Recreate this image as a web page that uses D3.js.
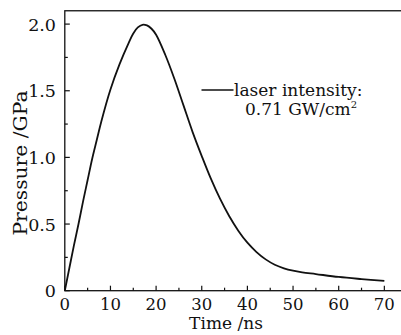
<!DOCTYPE html>
<html><head><meta charset="utf-8">
<script src="https://cdn.jsdelivr.net/npm/d3@7"></script>
<style>body{margin:0;background:#fff}svg{display:block}text{font-family:"DejaVu Serif",serif;fill:#111}</style>
</head><body><svg id="c" width="401" height="335"></svg>
<script>
const timeNs = [0,1,2,3,4,5,6,7,8,10,12,14,15,16,17,18,19,20,22,24,26,28,30,32,34,36,38,40,42,44,46,48,50,52,55,60,65,70];
const pressureGPa = [0,0.17,0.34,0.5,0.67,0.83,0.99,1.13,1.27,1.51,1.70,1.86,1.93,1.975,1.995,1.99,1.965,1.92,1.77,1.59,1.39,1.19,1.01,0.84,0.69,0.56,0.45,0.36,0.29,0.235,0.195,0.168,0.15,0.138,0.125,0.103,0.087,0.073];
const xTicks = [0,10,20,30,40,50,60,70];
const yTicks = [0,0.5,1.0,1.5,2.0];
const yTickLabels = ["0","0.5","1.0","1.5","2.0"];
const legendLines = ["laser intensity:","0.71 GW/cm"];

const svg = d3.select("#c");
const L = 64.8, B = 290.7;
const x = d3.scaleLinear().domain([0,75]).range([L, L + 75*4.565]);
const y = d3.scaleLinear().domain([0,2.1]).range([B, B - 2.1*133.3]);

const g = svg.append("g");
g.append("rect").attr("x",L).attr("y",y(2.1)).attr("width",x(75)-L).attr("height",B-y(2.1))
 .attr("fill","none").attr("stroke","#111").attr("stroke-width",1.3);

const xMinor = d3.range(5,75,10);
g.selectAll(".xt").data(xTicks).enter().append("line")
 .attr("x1",d=>x(d)).attr("x2",d=>x(d)).attr("y1",B).attr("y2",B-5).attr("stroke","#111").attr("stroke-width",1.2);
g.selectAll(".xm").data(xMinor).enter().append("line")
 .attr("x1",d=>x(d)).attr("x2",d=>x(d)).attr("y1",B).attr("y2",B-3).attr("stroke","#111").attr("stroke-width",1.2);
g.selectAll(".xl").data(xTicks).enter().append("text")
 .attr("x",d=>x(d)).attr("y",309.5).attr("text-anchor","middle").attr("font-size",16.5).text(d=>d);

const yMinor = [0.25,0.75,1.25,1.75];
g.selectAll(".yt").data(yTicks).enter().append("line")
 .attr("x1",L).attr("x2",L+5).attr("y1",d=>y(d)).attr("y2",d=>y(d)).attr("stroke","#111").attr("stroke-width",1.2);
g.selectAll(".ym").data(yMinor).enter().append("line")
 .attr("x1",L).attr("x2",L+3).attr("y1",d=>y(d)).attr("y2",d=>y(d)).attr("stroke","#111").attr("stroke-width",1.2);
g.selectAll(".yl").data(yTicks).enter().append("text")
 .attr("x",56).attr("y",d=>y(d)+6.5).attr("text-anchor","end").attr("font-size",17.5).text((d,i)=>yTickLabels[i]);

g.append("text").attr("x",226).attr("y",329).attr("text-anchor","middle").attr("font-size",17).text("Time /ns");
g.append("text").attr("transform","translate(27,163) rotate(-90)").attr("text-anchor","middle").attr("font-size",18.5)
 .attr("textLength",145).attr("lengthAdjust","spacingAndGlyphs").text("Pressure /GPa");

const line = d3.line().x((d,i)=>x(timeNs[i])).y(d=>y(d)).curve(d3.curveCatmullRom.alpha(0.5));
g.append("path").attr("d",line(pressureGPa)).attr("fill","none").attr("stroke","#111").attr("stroke-width",1.8);

g.append("line").attr("x1",201.5).attr("x2",233.5).attr("y1",90).attr("y2",90).attr("stroke","#111").attr("stroke-width",1.6);
g.append("text").attr("x",234).attr("y",95.5).attr("font-size",17).text(legendLines[0]);
const t2 = g.append("text").attr("x",245).attr("y",115).attr("font-size",17).text(legendLines[1]);
t2.append("tspan").attr("font-size",10).attr("dy",-7).text("2");
</script></body></html>
